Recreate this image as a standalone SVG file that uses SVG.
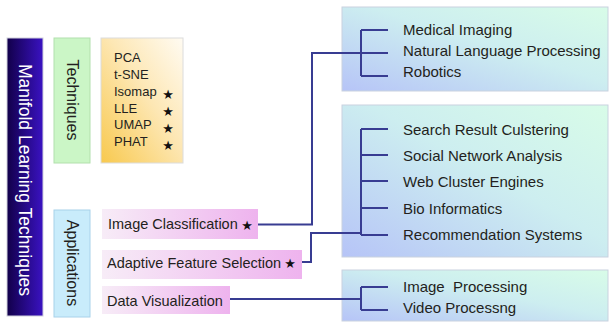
<svg xmlns="http://www.w3.org/2000/svg" width="610" height="322" viewBox="0 0 610 322">
  <defs>
    <linearGradient id="gMain" x1="0" y1="0" x2="1" y2="0">
      <stop offset="0" stop-color="#12004a"/>
      <stop offset="1" stop-color="#3a12c2"/>
    </linearGradient>
    <linearGradient id="gOrange" x1="1" y1="0" x2="0" y2="1">
      <stop offset="0" stop-color="#fffbf2"/>
      <stop offset="0.45" stop-color="#fde7b4"/>
      <stop offset="1" stop-color="#f8c94e"/>
    </linearGradient>
    <linearGradient id="gPink" x1="0" y1="0" x2="1" y2="0">
      <stop offset="0" stop-color="#f7ecf7"/>
      <stop offset="1" stop-color="#eeb3ee"/>
    </linearGradient>
    <linearGradient id="gPanel" x1="0" y1="1" x2="1" y2="0">
      <stop offset="0" stop-color="#b6c4f7"/>
      <stop offset="0.55" stop-color="#cdeef0"/>
      <stop offset="1" stop-color="#d8fce8"/>
    </linearGradient>
    <style>
      .t { font-family: "Liberation Sans", Arial, sans-serif; fill: #231f20; }
      .item { font-size: 15px; white-space: pre; }
      .list { font-size: 13px; }
      .app { font-size: 14.5px; }
      .vert { font-size: 16px; }
      .star { font-family: "DejaVu Sans", sans-serif; font-size: 13px; fill: #111; text-anchor: middle; }
      .panel { fill: url(#gPanel); stroke: #c9d2df; stroke-width: 1; }
      .pink { fill: url(#gPink); }
      .wire { fill: none; stroke: #383c92; stroke-width: 2; }
    </style>
  </defs>

  <!-- title bar -->
  <g id="title">
    <rect x="7" y="38" width="36" height="278" fill="url(#gMain)" stroke="#d0d0dc" stroke-width="1"/>
    <text class="t" transform="translate(25,180) rotate(90)" text-anchor="middle" dominant-baseline="central" font-size="17.5" style="fill:#ffffff">Manifold Learning Techniques</text>
  </g>

  <!-- category labels -->
  <g id="techniques">
    <rect x="54" y="38" width="36" height="125" fill="#cbf6c6" stroke="#b2e0ad" stroke-width="1"/>
    <text class="t vert" transform="translate(72,100) rotate(90)" text-anchor="middle" dominant-baseline="central">Techniques</text>
  </g>
  <g id="applications">
    <rect x="54" y="210" width="36" height="107" fill="#c9ecfb" stroke="#a8d2ea" stroke-width="1"/>
    <text class="t vert" transform="translate(72,263) rotate(90)" text-anchor="middle" dominant-baseline="central">Applications</text>
  </g>

  <!-- technique list -->
  <g id="technique-list">
    <rect x="101" y="38" width="82" height="125" fill="url(#gOrange)" stroke="#dcdcdc" stroke-width="1"/>
    <text class="t list" x="114" y="62">PCA</text>
    <text class="t list" x="114" y="79">t-SNE</text>
    <text class="t list" x="114" y="96">Isomap</text>
    <text class="t list" x="114" y="113">LLE</text>
    <text class="t list" x="114" y="129">UMAP</text>
    <text class="t list" x="114" y="146">PHAT</text>
    <text class="star" x="168" y="99">★</text>
    <text class="star" x="168" y="116">★</text>
    <text class="star" x="168" y="133">★</text>
    <text class="star" x="168" y="150">★</text>
  </g>

  <!-- application entries -->
  <g id="image-classification">
    <rect class="pink" x="102" y="209" width="156" height="30"/>
    <text class="t app" x="108" y="229">Image Classification</text>
    <text class="star" x="247" y="230">★</text>
  </g>
  <g id="adaptive-feature-selection">
    <rect class="pink" x="102" y="250" width="200" height="29"/>
    <text class="t app" x="107" y="268">Adaptive Feature Selection</text>
    <text class="star" x="290" y="268">★</text>
  </g>
  <g id="data-visualization">
    <rect class="pink" x="102" y="286" width="128" height="28"/>
    <text class="t app" x="107" y="306">Data Visualization</text>
  </g>

  <!-- target panels -->
  <g id="panel-top">
    <rect class="panel" x="342" y="7" width="266" height="84"/>
    <text class="t item" x="403" y="35">Medical Imaging</text>
    <text class="t item" x="403" y="56">Natural Language Processing</text>
    <text class="t item" x="403" y="77">Robotics</text>
  </g>
  <g id="panel-middle">
    <rect class="panel" x="342" y="105" width="266" height="152"/>
    <text class="t item" x="403" y="135">Search Result Culstering</text>
    <text class="t item" x="403" y="161">Social Network Analysis</text>
    <text class="t item" x="403" y="187">Web Cluster Engines</text>
    <text class="t item" x="403" y="214">Bio Informatics</text>
    <text class="t item" x="403" y="240">Recommendation Systems</text>
  </g>
  <g id="panel-bottom">
    <rect class="panel" x="342" y="270" width="266" height="51"/>
    <text class="t item" x="403" y="292">Image  Processing</text>
    <text class="t item" x="403" y="313">Video Processng</text>
  </g>

  <!-- connectors -->
  <g id="connectors" class="wire">
    <path d="M258 224.5 H312 V53 H361"/>
    <path d="M361 30 V76 M361 30 H388 M361 53 H388 M361 76 H388"/>
    <path d="M302 262 H311 V233 H361"/>
    <path d="M361 129 V235 M361 129 H388 M361 155 H388 M361 181 H388 M361 208 H388 M361 235 H388"/>
    <path d="M230 299 H361"/>
    <path d="M361 287 V310 M361 287 H388 M361 310 H388"/>
  </g>
</svg>
